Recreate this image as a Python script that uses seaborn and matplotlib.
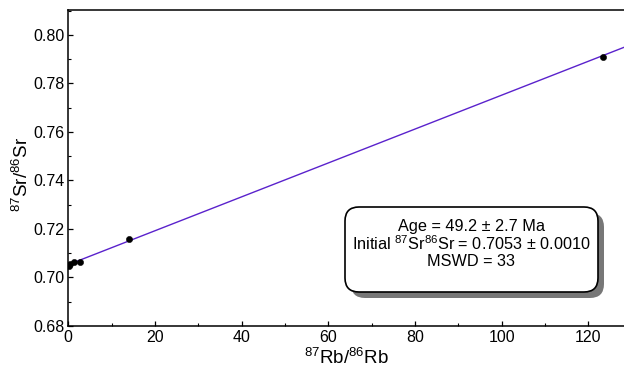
import numpy as np
import pandas as pd
import matplotlib
matplotlib.use("Agg")
import matplotlib.pyplot as plt
import seaborn as sns
from matplotlib.patches import FancyBboxPatch
from matplotlib.ticker import MultipleLocator
from matplotlib.transforms import IdentityTransform

rb_sr = [0.15, 0.5, 1.3, 2.7, 14.0, 123.3]
sr_sr = [0.7048, 0.7054, 0.7063, 0.7065, 0.7160, 0.7910]

# fitted isochron
intercept = 0.7053
slope = 0.000699
line_x = [0.0, 130.0]
line_y = [intercept + slope * x for x in line_x]

pts = pd.DataFrame({"x": rb_sr, "y": sr_sr})
fit = pd.DataFrame({"x": line_x, "y": line_y})

sns.set_style("ticks")
plt.rcParams["font.family"] = ["Liberation Sans", "DejaVu Sans"]
plt.rcParams["mathtext.fontset"] = "custom"
plt.rcParams["mathtext.rm"] = "Liberation Sans"
plt.rcParams["mathtext.it"] = "Liberation Sans"
plt.rcParams["text.color"] = "black"
plt.rcParams["axes.labelcolor"] = "black"

fig = plt.figure(figsize=(6.24, 3.72), dpi=100)
ax = fig.add_axes([68.3 / 624, 46 / 372, 1 - 68.3 / 624, 316 / 372])

sns.lineplot(data=fit, x="x", y="y", ax=ax, color="#5a22cc", linewidth=1.0)
sns.scatterplot(data=pts, x="x", y="y", ax=ax, color="black", s=20,
                edgecolor="black", zorder=3)

ax.set_xlim(0, 128.2)
ax.set_ylim(0.68, 0.8103)
ax.xaxis.set_major_locator(MultipleLocator(20))
ax.xaxis.set_minor_locator(MultipleLocator(10))
ax.yaxis.set_major_locator(MultipleLocator(0.02))
ax.yaxis.set_minor_locator(MultipleLocator(0.01))
ax.yaxis.set_major_formatter(matplotlib.ticker.FormatStrFormatter("%.2f"))
ax.tick_params(which="major", direction="in", length=3.5, width=0.9,
               labelsize=11.5, pad=3, color="black", labelcolor="black")
ax.tick_params(which="minor", direction="in", length=2, width=0.8, color="black")
ax.spines["right"].set_visible(False)
for s in ["left", "top", "bottom"]:
    ax.spines[s].set_linewidth(1.1)
    ax.spines[s].set_color("black")

ax.set_xlabel(r"$^{87}$Rb/$^{86}$Rb", fontsize=13.5, labelpad=2)
ax.set_ylabel(r"$^{87}$Sr/$^{86}$Sr", fontsize=13.5)
ax.yaxis.set_label_coords(-0.066, 0.48)

# annotation box with drop shadow (pixel coords)
bx, by, bw, bh = 345, 80, 253, 85
shadow = FancyBboxPatch((bx + 6, by - 6), bw, bh, boxstyle="round,pad=0,rounding_size=14",
                        transform=IdentityTransform(), facecolor="#777777",
                        edgecolor="none", zorder=5)
box = FancyBboxPatch((bx, by), bw, bh, boxstyle="round,pad=0,rounding_size=14",
                     transform=IdentityTransform(), facecolor="white",
                     edgecolor="black", linewidth=1.2, zorder=6)
fig.patches.extend([shadow, box])

lines = ["Age = 49.2 ± 2.7 Ma",
         r"Initial $^{87}$Sr$^{86}$Sr = 0.7053 ± 0.0010",
         "MSWD = 33"]
for i, t in enumerate(lines):
    fig.text(471 / 624, 1 - (226 + 17.5 * i) / 372, t, ha="center", va="center",
             fontsize=11.7, color="black", zorder=7)

fig.savefig("out.png", dpi=100)
